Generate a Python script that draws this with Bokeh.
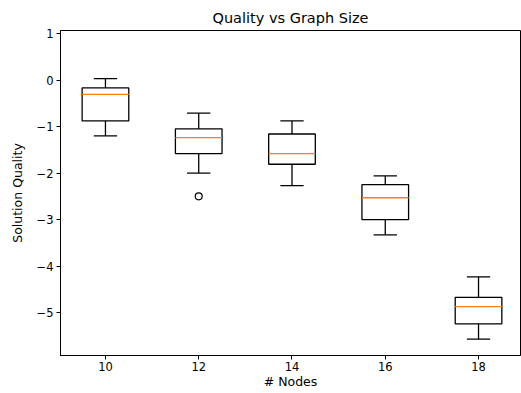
from bokeh.plotting import figure
from bokeh.models import Range1d, FixedTicker, ColumnDataSource
from bokeh.embed import file_html
from bokeh.resources import INLINE

# Data
positions = [1, 2, 3, 4, 5]
node_labels = ["10", "12", "14", "16", "18"]
whisker_low = [-1.20, -2.00, -2.27, -3.33, -5.57]
q1 = [-0.88, -1.58, -1.81, -3.00, -5.24]
median = [-0.31, -1.24, -1.58, -2.53, -4.87]
q3 = [-0.17, -1.05, -1.16, -2.25, -4.67]
whisker_high = [0.03, -0.71, -0.88, -2.06, -4.23]
outlier_pos = [2]
outlier_val = [-2.50]
y_ticks = [-5, -4, -3, -2, -1, 0, 1]

box_w = 0.5
cap_w = 0.25
FONT = "DejaVu Sans"

src = ColumnDataSource(dict(
    x=positions,
    left=[p - box_w / 2 for p in positions],
    right=[p + box_w / 2 for p in positions],
    cl=[p - cap_w / 2 for p in positions],
    cr=[p + cap_w / 2 for p in positions],
    lo=whisker_low, q1=q1, med=median, q3=q3, hi=whisker_high,
))

p = figure(width=521, height=393, output_backend="svg", toolbar_location=None,
           x_range=Range1d(0.518, 5.45), y_range=Range1d(-5.92, 1.064),
           title="Quality vs Graph Size",
           min_border_left=60, min_border_right=1, min_border_top=30, min_border_bottom=38)

# whiskers
p.segment(x0="x", y0="q3", x1="x", y1="hi", source=src, line_color="black", line_width=1.3)
p.segment(x0="x", y0="lo", x1="x", y1="q1", source=src, line_color="black", line_width=1.3)
# caps
p.segment(x0="cl", y0="hi", x1="cr", y1="hi", source=src, line_color="black", line_width=1.3)
p.segment(x0="cl", y0="lo", x1="cr", y1="lo", source=src, line_color="black", line_width=1.3)
# boxes
p.quad(left="left", right="right", bottom="q1", top="q3", source=src,
       fill_color=None, line_color="black", line_width=1.3)
# medians
p.segment(x0="left", y0="med", x1="right", y1="med", source=src, line_color="#ff7f0e", line_width=1.3)
# outliers
p.scatter(outlier_pos, outlier_val, marker="circle", size=7, fill_color=None,
          line_color="black", line_width=1.2)

p.title.align = "center"
p.title.text_font = FONT
p.title.text_font_size = "14.5px"
p.title.text_font_style = "normal"
p.title.text_color = "black"

p.xgrid.visible = False
p.ygrid.visible = False
p.outline_line_color = "black"
p.outline_line_width = 1
p.outline_line_alpha = 1

p.xaxis.ticker = FixedTicker(ticks=positions)
p.xaxis.major_label_overrides = {pos: lab for pos, lab in zip(positions, node_labels)}
p.yaxis.ticker = FixedTicker(ticks=y_ticks)
p.yaxis.major_label_overrides = {t: str(t).replace("-", "\u2212") for t in y_ticks}

p.xaxis.axis_label = "# Nodes"
p.yaxis.axis_label = "Solution Quality"

for ax in (p.xaxis[0], p.yaxis[0]):
    ax.axis_line_color = "black"
    ax.major_tick_line_color = "black"
    ax.minor_tick_line_color = None
    ax.major_tick_out = 4
    ax.major_tick_in = 0
    ax.major_label_text_font = FONT
    ax.major_label_text_font_size = "11.5px"
    ax.major_label_text_color = "black"
    ax.axis_label_text_font = FONT
    ax.axis_label_text_font_size = "12.5px"
    ax.axis_label_text_font_style = "normal"
    ax.axis_label_text_color = "black"

p.xaxis[0].major_label_standoff = 2
p.xaxis[0].axis_label_standoff = 0
p.yaxis[0].major_label_standoff = 3
p.yaxis[0].axis_label_standoff = 9

open("out.html", "w").write(file_html(p, INLINE))
